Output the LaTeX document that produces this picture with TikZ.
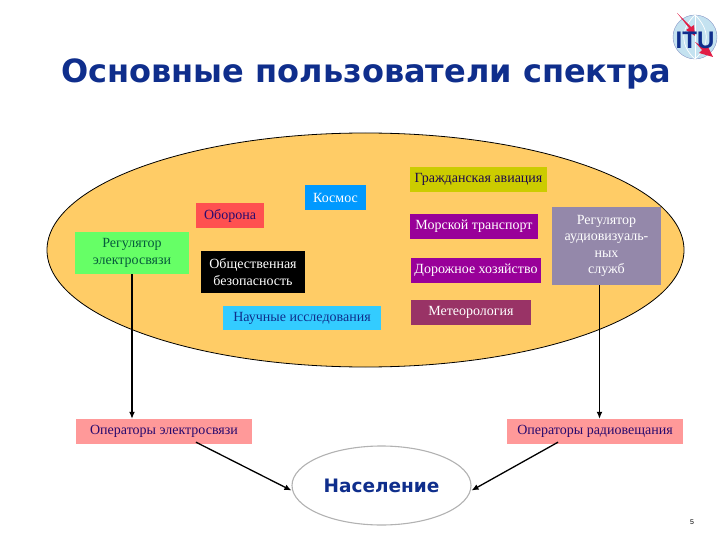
\documentclass[tikz,border=0pt]{standalone}
\usepackage{fontspec}
\setmainfont{Liberation Serif}
\newfontfamily\titlefont{DejaVu Sans}
\newfontfamily\logofont{Liberation Sans}
\usepackage{xcolor}
\usetikzlibrary{shapes.geometric,arrows.meta,positioning,calc}
\definecolor{specblue}{RGB}{15,46,140}
\definecolor{specorange}{RGB}{255,204,102}
\definecolor{specgreen}{RGB}{102,255,102}
\definecolor{specred}{RGB}{255,80,80}
\definecolor{specsky}{RGB}{0,153,255}
\definecolor{speccyan}{RGB}{51,204,255}
\definecolor{specolive}{RGB}{204,204,0}
\definecolor{specviolet}{RGB}{153,0,153}
\definecolor{specplum}{RGB}{153,51,102}
\definecolor{specgrey}{RGB}{148,136,170}
\definecolor{specpink}{RGB}{255,153,153}
\definecolor{specink}{RGB}{40,10,110}
\definecolor{specglobe}{RGB}{196,226,240}
\definecolor{specarrow}{RGB}{225,30,70}
\tikzset{
  userbox/.style={inner sep=0pt, align=center, font=\fontsize{14}{16.5}\selectfont},
  flowline/.style={-{Latex[length=7pt,width=6pt]}, line width=1.3pt, black}
}

\begin{document}
\begin{tikzpicture}[x=1pt, y=-1pt]
    \useasboundingbox (0,0) rectangle (720,540);

    % Title and logo
    \node[font=\titlefont\bfseries\fontsize{32}{36}\selectfont, color=specblue] (title) at (366,74) {Основные пользователи спектра};
    \node[circle, fill=specglobe, draw=specblue!50, minimum size=44pt, inner sep=0pt] (globe) at (695,37) {};
    \draw[white, line width=0.7pt] (globe.north) .. controls (680,30) and (680,45) .. (globe.south);
    \draw[white, line width=0.7pt] (globe.north) .. controls (710,30) and (710,45) .. (globe.south);
    \draw[white, line width=0.7pt] (globe.north) -- (globe.south);
    \fill[specarrow] (677,13) -- (691,27) -- (694,25) -- (695,36) -- (686,30) -- (689,28) -- cycle;
    \fill[specarrow] (695,42) -- (705,48) -- (707,45) -- (713,57) -- (699,53) -- (702,50) -- cycle;
    \node[font=\logofont\bfseries\fontsize{24}{24}\selectfont, color=specblue] (itu) at (695,40) {ITU};

    % Users of the spectrum
    \node[ellipse, fill=specorange, draw=black, line width=0.8pt, minimum width=637pt, minimum height=234pt, inner sep=0pt] (users) at (365.5,250) {};
    \node[userbox, fill=specolive, text=specink!70!black, minimum width=137pt, minimum height=25pt] (civil) at (478.5,179.5) {Гражданская авиация};
    \node[userbox, fill=specsky, text=white, minimum width=61pt, minimum height=25pt] (cosmos) at (335.5,197.5) {Космос};
    \node[userbox, fill=specred, text=specink, minimum width=68pt, minimum height=25pt] (defence) at (230,215.5) {Оборона};
    \node[userbox, fill=specviolet, text=white, minimum width=128pt, minimum height=25pt] (marine) at (474,226.5) {Морской транспорт};
    \node[userbox, fill=specgreen, text=specblue!60!green!70!black, minimum width=114pt, minimum height=42pt] (regtel) at (132,253) {Регулятор\\электросвязи};
    \node[userbox, fill=black, text=white, minimum width=104pt, minimum height=42pt] (safety) at (253,272) {Общественная\\безопасность};
    \node[userbox, fill=specviolet, text=white, minimum width=130pt, minimum height=25pt] (road) at (476,270.5) {Дорожное хозяйство};
    \node[userbox, fill=specgrey, text=white, minimum width=109pt, minimum height=78pt] (regav) at (606.5,246) {Регулятор\\аудиовизуаль-\\ных\\служб};
    \node[userbox, fill=specplum, text=white, minimum width=120pt, minimum height=25pt] (meteo) at (471,312.5) {Метеорология};
    \node[userbox, fill=speccyan, text=specblue, minimum width=158pt, minimum height=24pt] (science) at (302,318) {Научные исследования};

    % Operators and population
    \node[userbox, fill=specpink, text=specink, minimum width=176pt, minimum height=25pt] (opertel) at (164,431.5) {Операторы электросвязи};
    \node[userbox, fill=specpink, text=specink, minimum width=176pt, minimum height=25pt] (operrad) at (595,431.5) {Операторы радиовещания};
    \node[ellipse, fill=white, draw=black!30, line width=1.1pt, minimum width=179pt, minimum height=79pt, inner sep=0pt, font=\titlefont\bfseries\fontsize{18.5}{20}\selectfont, text=specblue] (people) at (381.5,485.5) {Население};

    % Arrows
    \draw[flowline] (regtel.south) -- (regtel.south |- opertel.north);
    \draw[flowline] ([xshift=-7pt]regav.south) -- ([xshift=-7pt]regav.south |- operrad.north);
    \draw[flowline] ([xshift=32pt,yshift=2pt]opertel.south) -- ([yshift=-5pt]people.west);
    \draw[flowline] ([xshift=-37pt,yshift=2pt]operrad.south) -- ([yshift=-5pt]people.east);

    \node[font=\logofont\fontsize{7}{8}\selectfont] (pagenum) at (692,522) {5};
\end{tikzpicture}
\end{document}
